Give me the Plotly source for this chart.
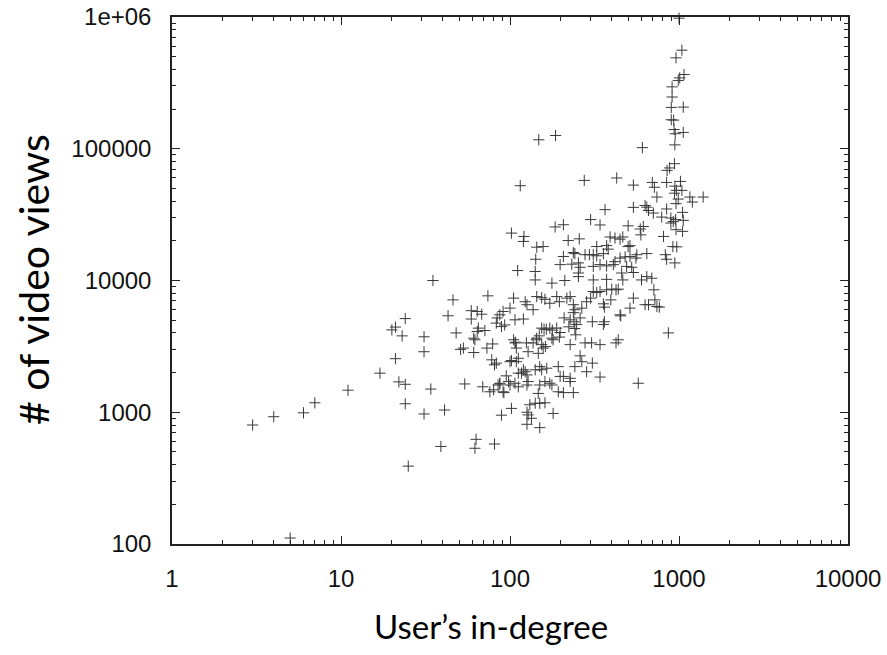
import plotly.graph_objects as go

# User's in-degree (x) and # of video views (y)
in_degree = [
    3, 4, 6, 7, 11, 17, 20, 21, 23, 24, 21, 22, 24, 24, 25, 31, 31, 31, 34, 35, 39, 41, 43, 5,
    1000, 1040, 960, 1070, 1010, 990, 910, 910, 900, 1060, 900, 930, 935, 1060, 950, 945, 607, 148, 186,
    940, 880, 850, 115, 275, 428, 537, 695, 715, 845, 1020, 945, 965, 1040, 940, 1160, 1200, 740, 990, 960,
    365, 537, 630, 660, 645, 705, 845, 1050, 790, 895, 925, 955, 1060, 895, 300, 341, 185, 207, 500, 590,
    615, 595, 960, 1050, 102, 121, 120, 144, 157, 221, 257, 326, 373, 391, 418, 448, 465, 513, 500, 810,
    920, 970, 1390,
    142, 207, 237, 242, 278, 295, 311, 326, 357, 381, 418, 448, 480, 513, 556, 645, 563, 830, 845, 945,
    198, 232, 254, 260, 311, 341, 373, 409, 458, 537, 525, 490, 111, 141, 141, 177, 211, 254, 254, 311,
    373, 465, 600, 645, 690, 710,
    46, 74, 105, 123, 126, 137, 144, 154, 161, 172, 189, 196, 217, 227, 237, 242, 266, 284, 300, 311,
    326, 341, 373, 400, 424, 437, 357, 362, 395, 448, 513, 537, 630, 660, 720, 740, 765, 865,
    48, 59, 64, 68, 59, 65, 71, 64, 61, 62, 51, 53, 61, 73, 79, 83, 84, 87, 91, 93,
    89, 100, 107, 120, 105, 107, 108, 109, 125, 128, 137, 144, 149, 143, 154, 157, 162, 147, 154, 159,
    164, 172, 178, 189, 198, 196, 177, 180, 209, 227, 239, 248, 260, 223, 242, 245, 227, 278, 304, 341,
    260, 307, 357, 362, 452, 437, 424, 237,
    78, 81, 83, 100, 102, 109, 112, 117, 123, 126, 112, 120, 141, 150, 154, 165, 95, 98, 87, 91,
    100, 107, 112, 69, 76, 80, 85, 87, 92, 54, 128, 126, 147, 150, 161, 172, 177, 198, 207, 227,
    227, 193, 242, 266, 307, 284, 341, 193, 207, 237, 131, 141, 150, 161, 89, 102, 126, 128, 134, 180,
    126, 150, 63, 62, 81, 574,
]
video_views = [
    800, 925, 990, 1180, 1470, 1980, 4220, 4430, 3800, 5140, 2550, 1700, 1630, 1160, 390, 3740, 2880, 970, 1500, 10000, 550, 1040, 5400, 111,
    980000, 560000, 490000, 366000, 345000, 330000, 295000, 247000, 206000, 207000, 166000, 165000, 140000, 133000, 130000, 107000, 102000, 117000, 126000,
    77000, 71500, 68500, 52400, 57500, 60000, 53000, 55500, 51000, 55500, 56500, 52000, 48300, 48300, 46000, 43000, 39400, 43000, 41500, 38300,
    34500, 35900, 37100, 34000, 36000, 32500, 34900, 32900, 30300, 29800, 28000, 29000, 28600, 27300, 29000, 26400, 25500, 26500, 26000, 24600,
    25700, 22200, 24300, 23600, 22900, 21600, 19800, 17900, 18100, 20100, 20700, 18100, 18400, 21400, 21000, 20600, 21400, 18400, 18100, 21600,
    18100, 18000, 43000,
    14500, 15200, 16300, 16000, 15700, 15700, 15700, 15400, 16000, 17300, 13900, 14800, 15100, 15200, 14800, 16000, 15700, 15700, 14500, 13600,
    13200, 13300, 13600, 12600, 12800, 13200, 12900, 13200, 11400, 11500, 12600, 12800, 11900, 11700, 10100, 9550, 10000, 10700, 11400, 10100,
    10200, 10100, 10100, 10700, 10400, 8500,
    7130, 7650, 7350, 6900, 6550, 6000, 7550, 7400, 7200, 6720, 7550, 6900, 7350, 7550, 6550, 6000, 6170, 6900, 7350, 8250,
    8100, 8250, 8500, 8600, 8500, 8600, 6650, 6280, 7130, 5490, 6170, 7350, 6550, 6550, 7130, 6350, 6280, 4000,
    4000, 5900, 5820, 5550, 5100, 4350, 4170, 4100, 3650, 3550, 3000, 3070, 2840, 3070, 3300, 4750, 5200, 5490, 5820, 4600,
    4470, 6170, 5030, 5100, 3550, 3360, 3400, 3070, 3360, 2880, 3360, 3650, 3800, 3550, 3260, 3070, 3150, 2800, 4350, 4270,
    4270, 4350, 4200, 4350, 4030, 3720, 3650, 3550, 5200, 5030, 4860, 4640, 5200, 4450, 4320, 3870, 3260, 3360, 3360, 3260,
    2680, 4860, 4640, 4860, 5390, 3550, 3360, 5700,
    2500, 2290, 2360, 2420, 2470, 2420, 2570, 1980, 2030, 1920, 1980, 2100, 2100, 2220, 2100, 2160, 1890, 1710, 1640, 1430,
    1610, 1660, 1560, 1560, 1430, 1480, 1610, 1660, 1410, 1640, 1710, 1610, 1390, 1610, 1710, 1660, 1610, 1870, 1870, 1810,
    1710, 2220, 2220, 2420, 2360, 2030, 1850, 1430, 1410, 1410, 1140, 1170, 1170, 1180, 950, 1070, 1000, 955, 900, 980,
    810, 764, 623, 533, 574, 1660,
]

x_tick_vals = [1, 10, 100, 1000, 10000]
x_tick_text = ["1", "10", "100", "1000", "10000"]
y_tick_vals = [100, 1000, 10000, 100000, 1000000]
y_tick_text = ["100", "1000", "10000", "100000", "1e+06"]

x_title = "User\u2019s in-degree"
y_title = "# of video views"

def minor_vals(lo_exp, hi_exp):
    vals = []
    for e in range(lo_exp, hi_exp):
        for m in range(2, 10):
            vals.append(m * 10 ** e)
    return vals

W, H = 887, 655
L, R, T, B = 172, 887 - 848, 17, 655 - 544

fig = go.Figure()
fig.add_trace(go.Scatter(
    x=in_degree, y=video_views, mode="markers",
    marker=dict(symbol="cross-thin", size=8, color="rgba(0,0,0,0)",
                line=dict(width=1, color="#3a3a3a")),
    showlegend=False, hoverinfo="skip", cliponaxis=False,
))

tick_font = dict(family="Liberation Sans, Arial, sans-serif", size=24, color="#111111")
axis_common = dict(
    type="log", showgrid=False, zeroline=False, automargin=False,
    ticklabeloverflow="allow",
    showline=True, linecolor="#222222", linewidth=1.5, mirror="allticks",
    ticks="inside", ticklen=8, tickwidth=1, tickcolor="#222222",
    tickfont=tick_font,
)

fig.update_xaxes(
    **axis_common, range=[0, 4], tickvals=x_tick_vals, ticktext=x_tick_text,
    ticklabelstandoff=12,
    minor=dict(ticks="inside", ticklen=4, tickwidth=1, tickcolor="#222222",
               tickvals=minor_vals(0, 4), showgrid=False),
)
fig.update_yaxes(
    **axis_common, range=[2, 6], tickvals=y_tick_vals, ticktext=y_tick_text,
    ticklabelstandoff=14,
    minor=dict(ticks="inside", ticklen=4, tickwidth=1, tickcolor="#222222",
               tickvals=minor_vals(2, 6), showgrid=False),
)

# title centres in window pixels (x from left, y from top)
title_specs = [
    (x_title, 491, 626, 0, 33),
    (y_title, 33, 280, -90, 41),
]
pw, ph = W - L - R, H - T - B
annotations = []
for text, cx, cy, ang, size in title_specs:
    annotations.append(dict(
        text=text, showarrow=False, xref="paper", yref="paper",
        x=(cx - L) / pw, y=(H - cy - B) / ph,
        xanchor="center", yanchor="middle", textangle=ang,
        font=dict(family="Lato, Calibri, sans-serif", size=size, color="#000000"),
    ))

fig.update_layout(
    width=W, height=H,
    margin=dict(l=L, r=R, t=T, b=B),
    paper_bgcolor="white", plot_bgcolor="white",
    annotations=annotations,
)

fig.write_html(
    "out.html",
    config={"displayModeBar": False},
    post_script="document.body.style.margin='0px';document.body.style.padding='0px';",
)
